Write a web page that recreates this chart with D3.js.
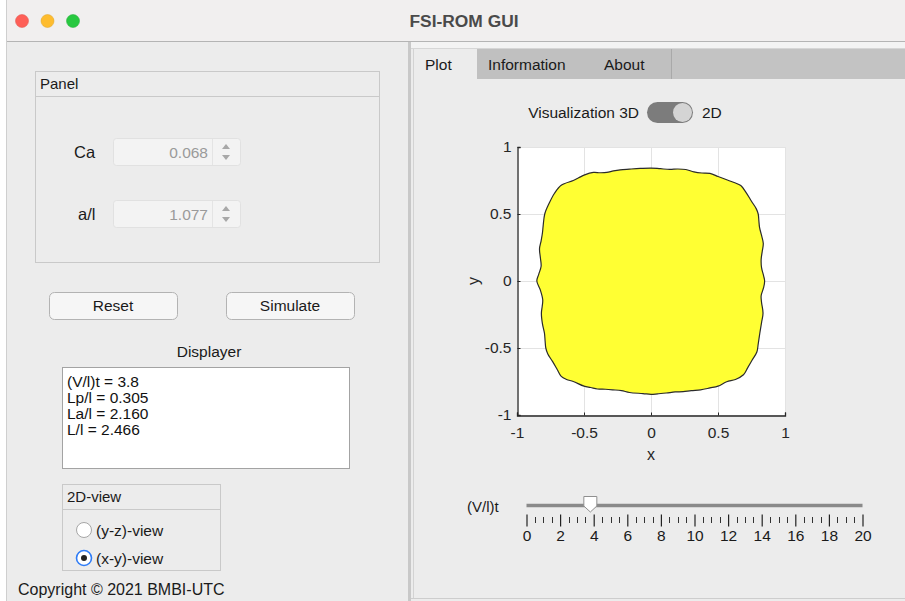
<!DOCTYPE html>
<html>
<head>
<meta charset="utf-8">
<script src="https://cdn.jsdelivr.net/npm/d3@7"></script>
<style>
  body { margin: 0; background: #ffffff; }
  svg text { font-family: "Liberation Sans", Arial, sans-serif; }
</style>
</head>
<body>
<div id="wrapper"></div>
<script>
// contour of the cell in the (x-y)-view
const shapeX = [0.00, 0.07, 0.14, 0.20, 0.26, 0.32, 0.38, 0.44, 0.50, 0.56, 0.62, 0.67, 0.71, 0.75, 0.785, 0.80,
  0.805, 0.81, 0.825, 0.838, 0.830, 0.822, 0.825, 0.840, 0.848, 0.840, 0.822, 0.825, 0.836, 0.825, 0.812, 0.800,
  0.790, 0.755, 0.720, 0.690, 0.630, 0.565, 0.500, 0.440, 0.370, 0.300, 0.240, 0.180, 0.115, 0.050, 0.000, -0.060,
  -0.160, -0.220, -0.285, -0.340, -0.400, -0.450, -0.500, -0.580, -0.630, -0.670, -0.700, -0.735, -0.770, -0.785,
  -0.790, -0.795, -0.810, -0.818, -0.812, -0.808, -0.825, -0.852, -0.838, -0.820, -0.825, -0.832, -0.820, -0.810,
  -0.805, -0.793, -0.760, -0.720, -0.670, -0.580, -0.540, -0.495, -0.430, -0.380, -0.330, -0.280, -0.230, -0.160, -0.080];
const shapeY = [0.843, 0.838, 0.833, 0.836, 0.832, 0.815, 0.806, 0.803, 0.780, 0.757, 0.735, 0.712, 0.660, 0.595, 0.540, 0.500,
  0.450, 0.400, 0.340, 0.280, 0.220, 0.160, 0.100, 0.040, 0.000, -0.050, -0.110, -0.160, -0.240, -0.310, -0.390, -0.470,
  -0.530, -0.590, -0.650, -0.700, -0.735, -0.752, -0.785, -0.798, -0.812, -0.818, -0.826, -0.828, -0.836, -0.842, -0.846, -0.840,
  -0.832, -0.818, -0.812, -0.808, -0.806, -0.795, -0.785, -0.750, -0.735, -0.712, -0.660, -0.600, -0.545, -0.500,
  -0.450, -0.390, -0.320, -0.240, -0.190, -0.140, -0.070, 0.000, 0.050, 0.110, 0.170, 0.240, 0.300, 0.360,
  0.410, 0.500, 0.580, 0.655, 0.715, 0.750, 0.770, 0.792, 0.810, 0.808, 0.810, 0.822, 0.830, 0.835, 0.840];

const axisTicks = [-1, -0.5, 0, 0.5, 1];
const sliderMajor = [0, 2, 4, 6, 8, 10, 12, 14, 16, 18, 20];
const sliderValue = 3.8;
const displayLines = ["(V/l)t = 3.8", "Lp/l = 0.305", "La/l = 2.160", "L/l = 2.466"];
const spinLabels = ["Ca", "a/l"];
const spinValues = ["0.068", "1.077"];
const tabNames = ["Plot", "Information", "About"];
const viewOptions = ["(y-z)-view", "(x-y)-view"];

const W = 905, H = 601;
const FS = 15.5;
const svg = d3.select("#wrapper").append("svg")
  .attr("width", W).attr("height", H);

// window frame
svg.append("rect").attr("x", 0).attr("y", 0).attr("width", W).attr("height", H).attr("fill", "#ffffff");
svg.append("rect").attr("x", 6).attr("y", 0).attr("width", W - 6).attr("height", H).attr("fill", "#ececec");
svg.append("rect").attr("x", 6).attr("y", 0).attr("width", W - 6).attr("height", 41).attr("fill", "#f1efef");
svg.append("line").attr("x1", 6).attr("x2", W).attr("y1", 41.5).attr("y2", 41.5).attr("stroke", "#b4b4b4");
svg.append("line").attr("x1", 6.5).attr("x2", 6.5).attr("y1", 0).attr("y2", H).attr("stroke", "#cfcfcf");

const lights = ["#fe5f57", "#febc2e", "#28c840"];
svg.selectAll("circle.light").data(lights).join("circle")
  .attr("class", "light")
  .attr("cx", (d, i) => 22 + i * 25.5).attr("cy", 21).attr("r", 6.5)
  .attr("fill", d => d).attr("stroke", d => d3.color(d).darker(0.4)).attr("stroke-width", 0.5);
svg.append("text").attr("x", 464).attr("y", 27).attr("text-anchor", "middle")
  .attr("font-size", 16).attr("font-weight", "bold").attr("fill", "#4a4a4a")
  .attr("textLength", 109).attr("lengthAdjust", "spacingAndGlyphs").text("FSI-ROM GUI");

// ---------------- left pane ----------------
const left = svg.append("g");
function panelBox(g, x, y, w, h, titleH, title) {
  g.append("rect").attr("x", x + 0.5).attr("y", y + 0.5).attr("width", w).attr("height", h)
    .attr("fill", "none").attr("stroke", "#c9c9c9");
  g.append("line").attr("x1", x).attr("x2", x + w).attr("y1", y + titleH + 0.5).attr("y2", y + titleH + 0.5)
    .attr("stroke", "#c9c9c9");
  g.append("text").attr("x", x + 5).attr("y", y + titleH / 2 + 5.5).attr("font-size", 15)
    .attr("fill", "#1a1a1a").text(title);
}
panelBox(left, 35, 71, 344, 191, 25, "Panel");

spinLabels.forEach((lab, i) => {
  const cy = 152 + i * 62;
  left.append("text").attr("x", i == 0 ? 74 : 78).attr("y", cy + 5.5).attr("font-size", FS + 1).attr("fill", "#1a1a1a").text(lab);
  left.append("rect").attr("x", 113.5).attr("y", cy - 13.5).attr("width", 127).attr("height", 27).attr("rx", 3)
    .attr("fill", "#f3f3f3").attr("stroke", "#e1e1e1");
  left.append("line").attr("x1", 212.5).attr("x2", 212.5).attr("y1", cy - 13).attr("y2", cy + 13).attr("stroke", "#e4e4e4");
  left.append("text").attr("x", 208).attr("y", cy + 5.5).attr("text-anchor", "end").attr("font-size", FS)
    .attr("fill", "#9a9a9a").text(spinValues[i]);
  left.append("path").attr("d", `M222,${cy - 3} L226,${cy - 8} L230,${cy - 3} Z`).attr("fill", "#a8a8a8");
  left.append("path").attr("d", `M222,${cy + 3} L226,${cy + 8} L230,${cy + 3} Z`).attr("fill", "#a8a8a8");
});

[["Reset", 49], ["Simulate", 226]].forEach(([t, x]) => {
  left.append("rect").attr("x", x + 0.5).attr("y", 292.5).attr("width", 128).attr("height", 27).attr("rx", 5)
    .attr("fill", "#f6f6f6").attr("stroke", "#b3b3b3");
  left.append("text").attr("x", x + 64).attr("y", 311).attr("text-anchor", "middle").attr("font-size", FS)
    .attr("fill", "#1a1a1a").text(t);
});

left.append("text").attr("x", 209).attr("y", 357).attr("text-anchor", "middle").attr("font-size", FS)
  .attr("fill", "#1a1a1a").text("Displayer");
left.append("rect").attr("x", 62.5).attr("y", 367.5).attr("width", 287).attr("height", 101)
  .attr("fill", "#ffffff").attr("stroke", "#a3a3a3");
left.selectAll("text.disp").data(displayLines).join("text")
  .attr("class", "disp").attr("x", 67).attr("y", (d, i) => 386.5 + i * 16.2)
  .attr("font-size", FS).attr("fill", "#111").text(d => d);

panelBox(left, 62, 484, 158, 86, 25, "2D-view");
viewOptions.forEach((t, i) => {
  const cy = 530 + i * 28;
  const sel = i == 1;
  left.append("circle").attr("cx", 84).attr("cy", cy).attr("r", 7.5)
    .attr("fill", "#ffffff").attr("stroke", sel ? "#2f7cf6" : "#a6a6a6").attr("stroke-width", sel ? 1.6 : 1);
  if (sel) left.append("circle").attr("cx", 84).attr("cy", cy).attr("r", 3).attr("fill", "#222");
  left.append("text").attr("x", 96).attr("y", cy + 5.5).attr("font-size", FS).attr("fill", "#1a1a1a").text(t);
});
left.append("text").attr("x", 18).attr("y", 595).attr("font-size", FS + 0.5).attr("fill", "#1a1a1a")
  .text("Copyright © 2021 BMBI-UTC");

// ---------------- right pane ----------------
const right = svg.append("g");
right.append("rect").attr("x", 408).attr("y", 42).attr("width", 3).attr("height", H - 42).attr("fill", "#c8c8c8");
right.append("rect").attr("x", 411).attr("y", 42).attr("width", W - 411).attr("height", 7).attr("fill", "#f3f3f3");
right.append("line").attr("x1", 411).attr("x2", W).attr("y1", 48.5).attr("y2", 48.5).attr("stroke", "#d6d6d6");
right.append("rect").attr("x", 413).attr("y", 49).attr("width", W - 413).attr("height", 30).attr("fill", "#c3c3c3");
right.append("line").attr("x1", 413.5).attr("x2", 413.5).attr("y1", 49).attr("y2", 598).attr("stroke", "#d3d3d3");
right.append("line").attr("x1", 411).attr("x2", W).attr("y1", 598.5).attr("y2", 598.5).attr("stroke", "#cdcdcd");

const tabEdges = [414, 477, 593, 671];
tabNames.forEach((t, i) => {
  const x0 = tabEdges[i], x1 = tabEdges[i + 1];
  right.append("rect").attr("x", x0).attr("y", 49).attr("width", x1 - x0).attr("height", 30)
    .attr("fill", i == 0 ? "#ececec" : "#c0c0c0");
  right.append("line").attr("x1", x1 + 0.5).attr("x2", x1 + 0.5).attr("y1", 49).attr("y2", 79).attr("stroke", "#a9a9a9");
  right.append("text").attr("x", x0 + 11).attr("y", 69.5).attr("font-size", FS)
    .attr("fill", "#1a1a1a").text(t);
});
right.append("rect").attr("x", 414).attr("y", 79).attr("width", W - 414).attr("height", 519).attr("fill", "#ececec");

// visualization switch
right.append("text").attr("x", 639).attr("y", 117.5).attr("text-anchor", "end").attr("font-size", FS)
  .attr("fill", "#1a1a1a").text("Visualization 3D");
right.append("rect").attr("x", 647).attr("y", 102).attr("width", 46).attr("height", 21).attr("rx", 10.5)
  .attr("fill", "#7c7c7c");
right.append("circle").attr("cx", 682.5).attr("cy", 112.5).attr("r", 9.5).attr("fill", "#d4d4d4");
right.append("text").attr("x", 702).attr("y", 117.5).attr("font-size", FS).attr("fill", "#1a1a1a").text("2D");

// ---------------- the plot ----------------
const plot = { left: 517, top: 147, size: 268 };
const xScale = d3.scaleLinear().domain([-1, 1]).range([plot.left, plot.left + plot.size]);
const yScale = d3.scaleLinear().domain([-1, 1]).range([plot.top + plot.size, plot.top]);

right.append("rect").attr("x", plot.left).attr("y", plot.top).attr("width", plot.size).attr("height", plot.size)
  .attr("fill", "#ffffff");
const grid = right.append("g").attr("stroke", "#e3e3e3").attr("stroke-width", 1);
axisTicks.slice(1).forEach(v => {
  grid.append("line").attr("x1", xScale(v) + 0.5).attr("x2", xScale(v) + 0.5)
    .attr("y1", plot.top).attr("y2", plot.top + plot.size);
  grid.append("line").attr("y1", yScale(v) + 0.5).attr("y2", yScale(v) + 0.5)
    .attr("x1", plot.left).attr("x2", plot.left + plot.size);
});

const pts = shapeX.map((x, i) => [x, shapeY[i]]);
const shapeLine = d3.line().x(d => xScale(d[0])).y(d => yScale(d[1])).curve(d3.curveCatmullRomClosed.alpha(0.5));
right.append("path").attr("d", shapeLine(pts))
  .attr("fill", "#ffff33").attr("stroke", "#2b2b2b").attr("stroke-width", 1.2);

// MATLAB style labels with a plain hyphen for the minus sign
const fmt = d => String(d);
const xAxis = d3.axisBottom(xScale).tickValues(axisTicks).tickSize(-3).tickPadding(11).tickFormat(fmt);
const yAxis = d3.axisLeft(yScale).tickValues(axisTicks).tickSize(-3).tickPadding(6).tickFormat(fmt);
const gx = right.append("g").attr("transform", `translate(0,${plot.top + plot.size + 0.5})`).call(xAxis);
const gy = right.append("g").attr("transform", `translate(${plot.left + 0.5},0)`).call(yAxis);
[gx, gy].forEach(g => {
  g.select(".domain").attr("stroke", "#262626").attr("stroke-width", 1.3);
  g.selectAll(".tick line").attr("stroke", "#262626");
  g.selectAll(".tick text").attr("font-size", 15.5).attr("fill", "#262626")
    .attr("font-family", "Liberation Sans, Arial, sans-serif");
});
right.append("text").attr("x", xScale(0)).attr("y", 460).attr("text-anchor", "middle").attr("font-size", 16)
  .attr("fill", "#262626").text("x");
right.append("text").attr("transform", `translate(479,${yScale(0)}) rotate(-90)`).attr("text-anchor", "middle")
  .attr("font-size", 16).attr("fill", "#262626").text("y");

// ---------------- slider ----------------
const sScale = d3.scaleLinear().domain([0, 20]).range([526.5, 862.5]);
right.append("text").attr("x", 467).attr("y", 512).attr("font-size", 15).attr("fill", "#1a1a1a").text("(V/l)t");
right.append("line").attr("x1", sScale(0)).attr("x2", sScale(20)).attr("y1", 505.5).attr("y2", 505.5)
  .attr("stroke", "#8a8a8a").attr("stroke-width", 3.5);
const sAxis = d3.axisBottom(sScale).tickValues(sliderMajor).tickSize(12).tickPadding(3).tickFormat(d3.format("d"));
const gs = right.append("g").attr("transform", "translate(0,514.5)").call(sAxis);
gs.select(".domain").remove();
gs.selectAll(".tick line").attr("stroke", "#222").attr("stroke-width", 1.2);
gs.selectAll(".tick text").attr("font-size", 15.5).attr("fill", "#1a1a1a")
  .attr("font-family", "Liberation Sans, Arial, sans-serif");
const minor = d3.range(0, 20, 0.5).filter(v => v % 2 != 0);
right.append("g").selectAll("line").data(minor).join("line")
  .attr("x1", d => Math.round(sScale(d)) + 0.5).attr("x2", d => Math.round(sScale(d)) + 0.5)
  .attr("y1", 517).attr("y2", 523).attr("stroke", "#333").attr("stroke-width", 1);
const tx = sScale(sliderValue);
right.append("path")
  .attr("d", `M${tx - 6.5},496.5 L${tx + 6.5},496.5 L${tx + 6.5},506 L${tx},512 L${tx - 6.5},506 Z`)
  .attr("fill", "#ffffff").attr("stroke", "#8f8f8f").attr("stroke-width", 1);
</script>
</body>
</html>
